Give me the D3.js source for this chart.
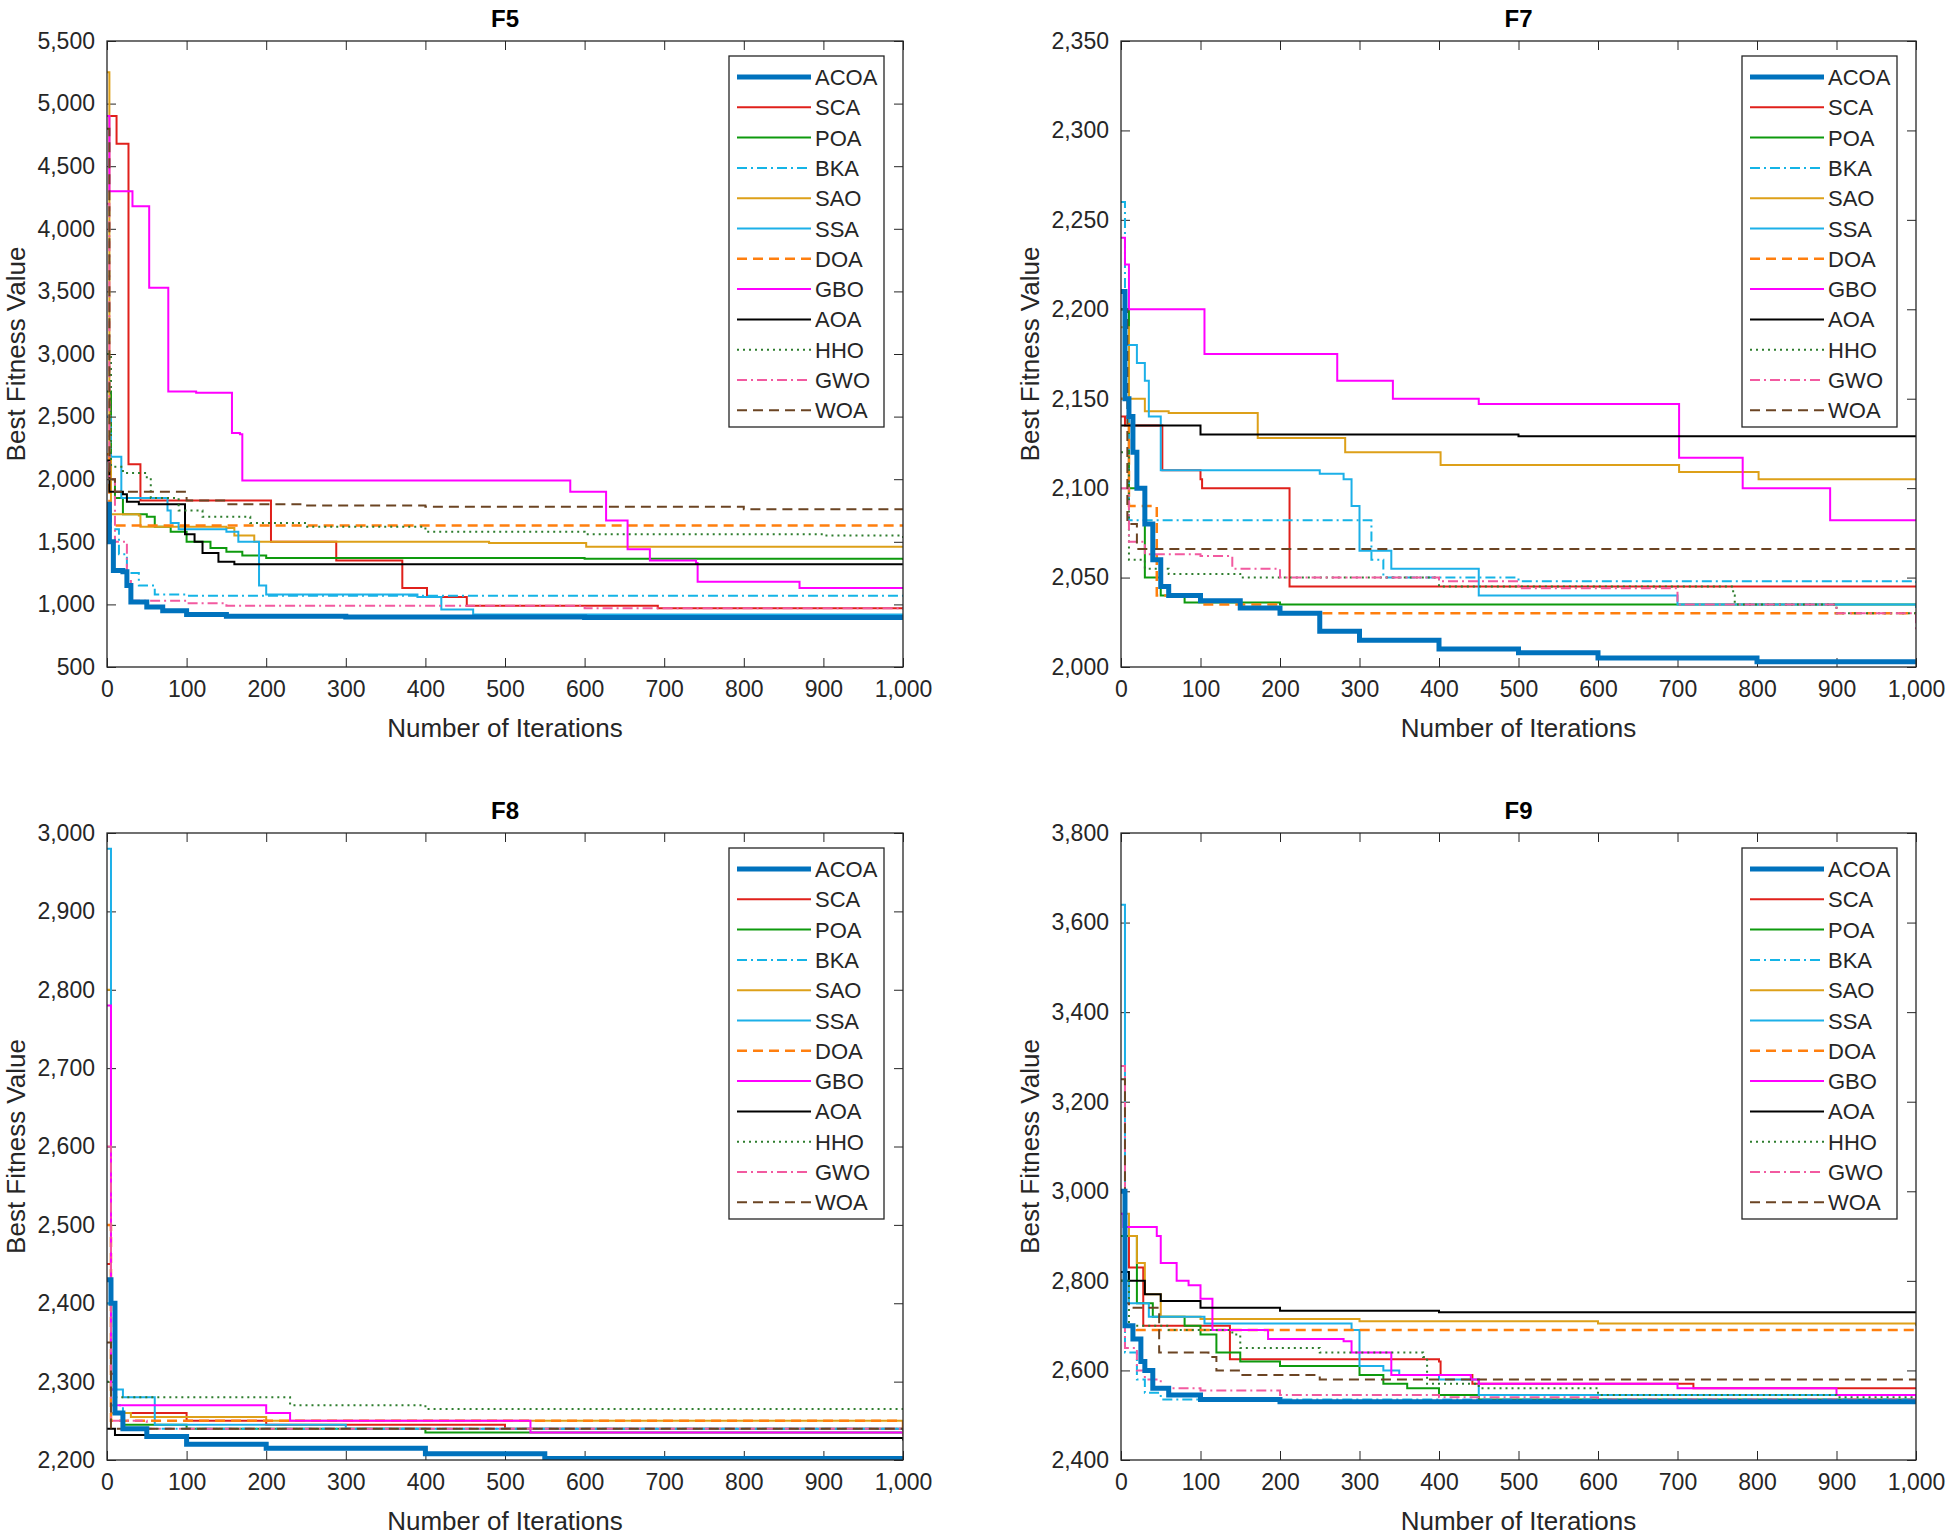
<!DOCTYPE html>
<html><head><meta charset="utf-8">
<script src="https://cdn.jsdelivr.net/npm/d3@7"></script>
<style>body{margin:0;background:#fff}svg{display:block}</style>
</head><body>
<script>
// convergence curves, [iteration, best fitness] breakpoints
const names = ["ACOA","SCA","POA","BKA","SAO","SSA","DOA","GBO","AOA","HHO","GWO","WOA"];
const colors = ["#0072BD","#E0201B","#0E9A0E","#14B4E6","#DDA019","#1CB0E8","#FF7F0E","#FF00FF","#000000","#2E7D2E","#F25AA0","#6B4423"];
const dashes = [null,null,null,"10,4,2,4",null,null,"10,6",null,null,"2,4","10,4,2,4","10,6"];
const widths = [5,2,2,2,2,2,2.5,2,2,2,2,2];

const titles = ["F5","F7","F8","F9"];
const yDomains = [[500,5500],[2000,2350],[2200,3000],[2400,3800]];
const yTicks = [d3.range(500,5501,500),d3.range(2000,2351,50),d3.range(2200,3001,100),d3.range(2400,3801,200)];
const xTicks = d3.range(0,1001,100);

const f5 = [
 [[0,1800],[3,1500],[8,1270],[20,1260],[25,1150],[30,1020],[50,980],[70,950],[100,920],[150,905],[300,900],[600,895],[1000,890]],
 [[0,4900],[8,4900],[12,4680],[25,4680],[27,2120],[40,2120],[42,1830],[205,1830],[206,1500],[287,1500],[288,1350],[370,1350],[371,1130],[400,1130],[402,1060],[450,1060],[452,990],[690,990],[692,970],[1000,970]],
 [[0,2700],[5,2000],[10,1850],[20,1720],[50,1700],[60,1620],[80,1580],[100,1500],[130,1450],[150,1420],[170,1390],[200,1370],[600,1365],[1000,1355]],
 [[0,2500],[5,1600],[15,1400],[25,1250],[40,1150],[60,1080],[100,1070],[1000,1065]],
 [[0,5250],[3,2200],[5,1720],[40,1710],[42,1620],[150,1610],[160,1550],[185,1500],[470,1500],[480,1490],[600,1490],[602,1460],[1000,1455]],
 [[0,2200],[5,2180],[15,2180],[18,1850],[75,1850],[76,1750],[80,1650],[90,1600],[150,1580],[165,1500],[190,1500],[191,1150],[200,1080],[380,1080],[390,1060],[400,1060],[420,960],[460,920],[1000,910]],
 [[0,2200],[3,1630],[1000,1630]],
 [[0,4900],[3,4300],[30,4300],[32,4180],[52,4180],[53,3530],[75,3530],[77,2700],[110,2700],[112,2690],[155,2690],[157,2370],[167,2360],[170,1990],[580,1990],[582,1900],[625,1900],[627,1670],[652,1670],[654,1440],[680,1440],[682,1350],[740,1330],[742,1180],[860,1180],[870,1130],[1000,1130]],
 [[0,2150],[3,1900],[20,1880],[25,1820],[40,1800],[95,1800],[98,1560],[110,1500],[120,1410],[140,1340],[160,1320],[1000,1315]],
 [[0,3000],[5,2100],[20,2050],[50,2000],[55,1850],[90,1750],[120,1700],[180,1650],[250,1620],[400,1580],[600,1560],[900,1550],[1000,1530]],
 [[0,4200],[3,2000],[10,1500],[25,1200],[30,1030],[100,1010],[150,990],[400,990],[600,970],[1000,960]],
 [[0,4800],[3,2000],[10,1900],[100,1830],[150,1800],[250,1790],[400,1780],[780,1780],[800,1760],[1000,1760]]
];
const f7 = [
 [[0,2210],[5,2150],[10,2140],[15,2120],[20,2100],[30,2080],[40,2060],[50,2045],[60,2040],[100,2037],[150,2033],[200,2030],[250,2020],[300,2015],[400,2010],[500,2008],[600,2005],[800,2003],[1000,2003]],
 [[0,2140],[5,2135],[50,2135],[52,2110],[100,2105],[102,2100],[210,2100],[212,2045],[1000,2045]],
 [[0,2200],[10,2100],[30,2050],[50,2040],[80,2036],[200,2035],[500,2035],[1000,2033]],
 [[0,2260],[5,2150],[10,2082],[300,2082],[315,2060],[330,2050],[500,2048],[1000,2046]],
 [[0,2190],[10,2150],[30,2143],[60,2142],[170,2142],[172,2128],[280,2128],[282,2120],[400,2120],[402,2113],[700,2113],[702,2109],[800,2109],[802,2105],[1000,2105]],
 [[0,2210],[5,2180],[20,2170],[30,2160],[35,2140],[50,2110],[250,2108],[280,2105],[290,2090],[300,2065],[330,2065],[340,2055],[440,2055],[450,2040],[700,2035],[1000,2033]],
 [[0,2150],[10,2090],[40,2090],[45,2040],[100,2035],[200,2030],[1000,2030]],
 [[0,2240],[5,2225],[10,2200],[100,2200],[105,2175],[270,2175],[272,2160],[340,2160],[342,2150],[450,2147],[700,2147],[702,2117],[780,2117],[782,2100],[890,2100],[892,2082],[1000,2082]],
 [[0,2135],[100,2130],[500,2129],[1000,2129]],
 [[0,2120],[10,2060],[30,2055],[60,2052],[150,2050],[400,2045],[770,2040],[772,2035],[900,2030],[1000,2025]],
 [[0,2100],[10,2070],[30,2063],[100,2062],[140,2055],[200,2050],[400,2048],[500,2044],[700,2035],[900,2030],[1000,2020]],
 [[0,2200],[8,2080],[20,2066],[1000,2066]]
];
const f8 = [
 [[0,2430],[5,2400],[10,2260],[20,2240],[50,2230],[100,2220],[200,2215],[400,2208],[550,2202],[1000,2202]],
 [[0,2450],[5,2310],[10,2260],[100,2250],[200,2245],[500,2240],[1000,2238]],
 [[0,2500],[5,2260],[20,2245],[100,2240],[400,2235],[1000,2233]],
 [[0,2400],[5,2270],[20,2240],[1000,2235]],
 [[0,2800],[5,2260],[30,2255],[200,2250],[1000,2240]],
 [[0,2980],[5,2290],[20,2280],[55,2280],[60,2245],[300,2240],[1000,2235]],
 [[0,2500],[5,2250],[1000,2240]],
 [[0,2780],[5,2290],[10,2270],[200,2260],[230,2250],[530,2250],[532,2235],[1000,2235]],
 [[0,2240],[10,2232],[100,2228],[1000,2225]],
 [[0,2300],[10,2280],[200,2280],[230,2270],[400,2265],[1000,2265]],
 [[0,2600],[5,2250],[50,2240],[1000,2230]],
 [[0,2350],[5,2240],[1000,2238]]
];
const f9 = [
 [[0,3000],[5,2700],[15,2670],[25,2620],[30,2600],[40,2560],[60,2545],[100,2535],[200,2530],[1000,2528]],
 [[0,2900],[10,2830],[25,2830],[28,2700],[135,2700],[137,2625],[400,2620],[402,2590],[440,2590],[442,2570],[720,2560],[1000,2560]],
 [[0,2900],[20,2750],[40,2720],[80,2700],[100,2680],[120,2640],[150,2620],[200,2610],[300,2590],[330,2570],[360,2560],[400,2545],[450,2535],[1000,2535]],
 [[0,2800],[5,2640],[20,2580],[30,2550],[50,2535],[1000,2530]],
 [[0,2950],[10,2900],[20,2840],[30,2770],[50,2720],[100,2715],[300,2710],[600,2705],[1000,2700]],
 [[0,3640],[5,2800],[10,2750],[30,2750],[35,2720],[100,2720],[105,2705],[280,2705],[290,2690],[300,2610],[330,2600],[350,2590],[400,2580],[450,2545],[1000,2530]],
 [[0,2800],[5,2700],[20,2690],[1000,2690]],
 [[0,2950],[3,2920],[40,2920],[45,2900],[50,2840],[65,2840],[70,2800],[85,2790],[100,2760],[110,2760],[115,2690],[180,2690],[185,2670],[280,2665],[290,2640],[335,2640],[340,2590],[440,2580],[450,2570],[700,2560],[900,2545],[1000,2540]],
 [[0,2820],[10,2800],[30,2770],[50,2755],[100,2740],[200,2733],[400,2730],[1000,2730]],
 [[0,2800],[10,2700],[60,2690],[140,2680],[150,2650],[250,2640],[380,2630],[385,2570],[450,2560],[600,2545],[900,2540],[1000,2540]],
 [[0,3280],[5,2650],[20,2600],[30,2580],[50,2560],[100,2555],[200,2545],[400,2540],[600,2535],[1000,2535]],
 [[0,3250],[5,2750],[10,2740],[45,2740],[48,2640],[110,2630],[120,2600],[150,2590],[250,2580],[1000,2580]]
];
const panelData = [f5,f7,f8,f9];

const W = 1950, H = 1538;
const svg = d3.select("body").append("svg").attr("width",W).attr("height",H)
  .style("font-family","'Liberation Sans', Arial, sans-serif");

const boxes = [
  {l:107,r:903,t:41,b:667},{l:1121,r:1916,t:41,b:667},
  {l:107,r:903,t:833,b:1460},{l:1121,r:1916,t:833,b:1460}
];

boxes.forEach((bx,p) => {
  const g = svg.append("g");
  const x = d3.scaleLinear().domain([0,1000]).range([bx.l,bx.r]);
  const y = d3.scaleLinear().domain(yDomains[p]).range([bx.b,bx.t]);
  const tl = 9;

  g.append("g").attr("transform",`translate(0,${bx.b})`)
    .call(d3.axisBottom(x).tickValues(xTicks).tickSizeInner(-tl).tickSizeOuter(0).tickPadding(14));
  g.append("g").attr("transform",`translate(0,${bx.t})`)
    .call(d3.axisTop(x).tickValues(xTicks).tickSizeInner(-tl).tickSizeOuter(0).tickFormat(""));
  g.append("g").attr("transform",`translate(${bx.l},0)`)
    .call(d3.axisLeft(y).tickValues(yTicks[p]).tickSizeInner(-tl).tickSizeOuter(0).tickPadding(12));
  g.append("g").attr("transform",`translate(${bx.r},0)`)
    .call(d3.axisRight(y).tickValues(yTicks[p]).tickSizeInner(-tl).tickSizeOuter(0).tickFormat(""));
  g.selectAll(".domain").remove();
  g.selectAll(".tick line").attr("stroke","#262626");
  g.selectAll(".tick text").attr("font-size",23).attr("fill","#262626");

  const clip = "clip"+p;
  svg.append("clipPath").attr("id",clip).append("rect")
    .attr("x",bx.l).attr("y",bx.t).attr("width",bx.r-bx.l).attr("height",bx.b-bx.t);

  const line = d3.line().x(d => x(d[0])).y(d => y(d[1])).curve(d3.curveStepAfter);
  const order = d3.range(1,12).concat([0]);
  order.forEach(i => {
    g.append("path").attr("clip-path",`url(#${clip})`)
      .attr("d",line(panelData[p][i])).attr("fill","none")
      .attr("stroke",colors[i]).attr("stroke-width",widths[i])
      .attr("stroke-dasharray",dashes[i]);
  });

  g.append("rect").attr("x",bx.l).attr("y",bx.t).attr("width",bx.r-bx.l).attr("height",bx.b-bx.t)
    .attr("fill","none").attr("stroke","#262626").attr("stroke-width",1.3);

  g.append("text").attr("x",(bx.l+bx.r)/2).attr("y",bx.t-14).attr("text-anchor","middle")
    .attr("font-size",24).attr("font-weight","bold").text(titles[p]);
  g.append("text").attr("x",(bx.l+bx.r)/2).attr("y",bx.b+70).attr("text-anchor","middle")
    .attr("font-size",26).attr("fill","#262626").text("Number of Iterations");
  g.append("text").attr("transform",`translate(${bx.l-82},${(bx.t+bx.b)/2}) rotate(-90)`)
    .attr("text-anchor","middle").attr("font-size",26).attr("fill","#262626").text("Best Fitness Value");

  // legend
  const lw = 155, lh = 371, lx = bx.r-19-lw, ly = bx.t+15;
  const lg = g.append("g");
  lg.append("rect").attr("x",lx).attr("y",ly).attr("width",lw).attr("height",lh)
    .attr("fill","#fff").attr("stroke","#262626").attr("stroke-width",1.3);
  names.forEach((n,i) => {
    const yy = ly+21+i*30.3;
    lg.append("line").attr("x1",lx+8).attr("x2",lx+82).attr("y1",yy).attr("y2",yy)
      .attr("stroke",colors[i]).attr("stroke-width",widths[i]).attr("stroke-dasharray",dashes[i]);
    lg.append("text").attr("x",lx+86).attr("y",yy+8).attr("font-size",22).attr("fill","#262626").text(n);
  });
});
</script>
</body></html>
